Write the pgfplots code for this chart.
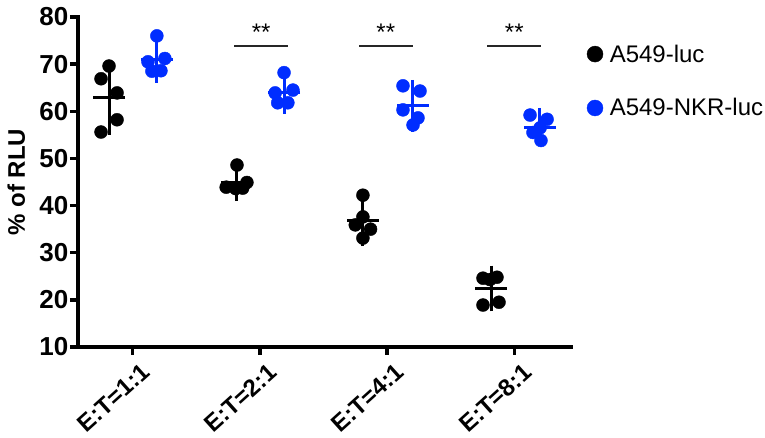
\documentclass[border=0pt]{standalone}
\usepackage{fontspec}
\setmainfont{Liberation Sans}
\usepackage{pgfplots}
\pgfplotsset{compat=1.18}
\definecolor{myblue}{RGB}{0,45,255}
\begin{document}
\begin{tikzpicture}[x=1pt,y=1pt]
\useasboundingbox (0,0) rectangle (765,438);
\begin{axis}[
  at={(78pt,91pt)}, anchor=south west,
  scale only axis, width=493pt, height=330pt,
  xmin=0.57, xmax=4.446, ymin=10, ymax=80,
  clip=false,
  axis lines*=left,
  axis line style={line width=3.5pt, line cap=rect},
  tick align=outside,
  major tick length=8pt,
  major tick style={line width=3.5pt, black},
  xtick={1,2,3,4},
  xticklabels={{E:T=1:1},{E:T=2:1},{E:T=4:1},{E:T=8:1}},
  ytick={10,20,30,40,50,60,70,80},
  /pgf/number format/assume math mode=true,
  yticklabel style={font=\fontsize{26}{30}\selectfont\bfseries, inner sep=1.5pt},
  xticklabel style={font=\fontsize{24}{28}\selectfont\bfseries, inner sep=5pt, xshift=8pt, yshift=0pt, rotate=42, anchor=north east},
  ylabel={\% of RLU},
  ylabel style={font=\fontsize{24}{28}\selectfont\bfseries, at={(axis description cs:-0.125,0.5)}, anchor=center},
  legend style={draw=none, fill=none, at={(axis description cs:1.026,0.935)}, anchor=north west,
    font=\fontsize{24}{28}\selectfont, row sep=27pt,
    nodes={inner sep=4pt}},
  legend cell align=left,
  legend image code/.code={\draw[#1, mark size=8pt] plot coordinates {(0.25cm,0cm)};\path (0,0) (0.62cm,0);},
]
\addplot[only marks, mark=*, mark size=6.5pt, black] table {
x y
0.814 69.6
0.751 66.9
0.877 63.9
0.877 58.2
0.751 55.6
1.82 48.6
1.735 43.9
1.81 43.6
1.898 44.9
1.865 43.7
2.81 42.2
2.81 37.6
2.75 35.9
2.87 35.0
2.81 33.1
3.754 24.6
3.864 24.8
3.809 24.3
3.754 18.9
3.880 19.5
};
\addlegendentry{A549-luc}
\addplot[only marks, mark=*, mark size=6.5pt, myblue, mark options={fill=myblue, draw=myblue}] table {
x y
1.19 76.0
1.253 71.2
1.151 68.5
1.222 68.6
1.120 70.5
2.19 68.2
2.12 63.9
2.26 64.5
2.14 61.8
2.22 61.8
3.125 65.4
3.259 64.3
3.125 60.3
3.243 58.6
3.204 57.1
4.124 59.2
4.258 58.3
4.203 56.5
4.147 55.5
4.210 53.8
};
\addlegendentry{A549-NKR-luc}
% means and SD
\addplot[forget plot, only marks, black, mark=-, mark size=16pt, mark options={line width=3pt},
  error bars/.cd, y dir=both, y explicit,
  error bar style={line width=3pt},
  error mark options={mark size=9pt, line width=3pt}] table[x=x, y=y, y error=e] {
x y e
0.814 62.84 5.86
1.82 44.94 2.11
2.81 36.76 3.45
3.817 22.42 2.95
};
\addplot[forget plot, only marks, myblue, mark=-, mark size=16pt, mark options={line width=3pt},
  error bars/.cd, y dir=both, y explicit,
  error bar style={line width=3pt},
  error mark options={mark size=9pt, line width=3pt}] table[x=x, y=y, y error=e] {
x y e
1.19 70.96 3.05
2.19 64.04 2.63
3.20 61.14 3.59
4.20 56.66 2.16
};
% significance
\draw[line width=1.8pt, black!85] (axis cs:1.80,73.9) -- (axis cs:2.22,73.9);
\draw[line width=1.8pt, black!85] (axis cs:2.78,73.9) -- (axis cs:3.20,73.9);
\draw[line width=1.8pt, black!85] (axis cs:3.786,73.9) -- (axis cs:4.21,73.9);
\node[anchor=base, font=\fontsize{24}{28}\selectfont] at (axis cs:2.01,75.0) {**};
\node[anchor=base, font=\fontsize{24}{28}\selectfont] at (axis cs:2.99,75.0) {**};
\node[anchor=base, font=\fontsize{24}{28}\selectfont] at (axis cs:4.0,75.0) {**};
\end{axis}
\end{tikzpicture}
\end{document}
